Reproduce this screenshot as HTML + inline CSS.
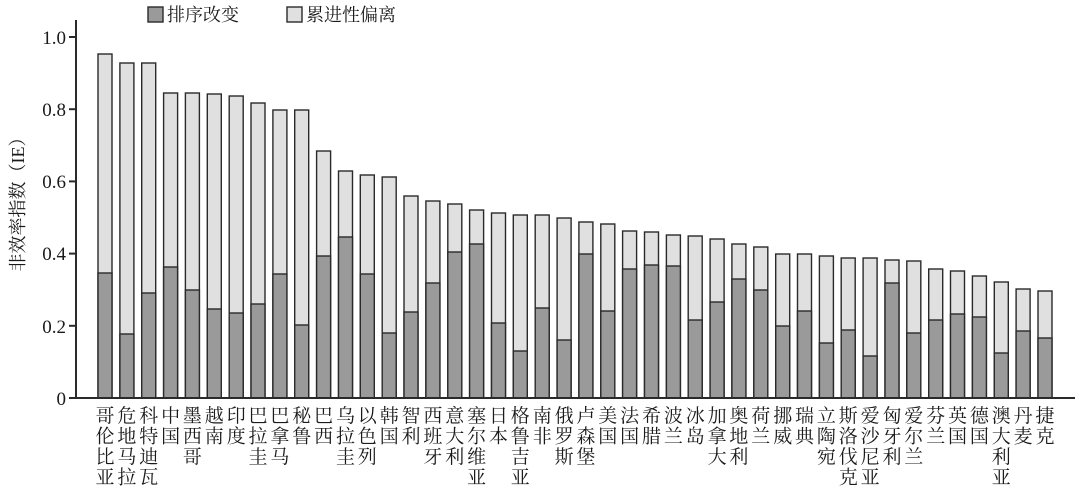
<!DOCTYPE html>
<html><head><meta charset="utf-8"><style>
html,body{margin:0;padding:0;background:#fff;}
svg{display:block;font-family:"Liberation Serif","Noto Serif CJK SC","Noto Sans CJK SC",serif;}
.l{fill:#e0e0e0;stroke:#2a2a2a;stroke-width:1.4}
.d{fill:#9a9a9a;stroke:#2a2a2a;stroke-width:1.4}
.c{font-size:19px;fill:#1a1a1a;text-anchor:middle}
</style></head><body>
<svg width="1080" height="496" viewBox="0 0 1080 496">
<rect x="148" y="7" width="15" height="15" class="d"/>
<text x="167" y="21" font-size="18" fill="#1a1a1a">排序改变</text>
<rect x="287" y="7" width="15" height="15" class="l"/>
<text x="306" y="21" font-size="18" fill="#1a1a1a">累进性偏离</text>
<text transform="translate(24,200) rotate(-90)" font-size="18" fill="#1a1a1a" text-anchor="middle">非效率指数（IE）</text>
<g font-size="19" fill="#1a1a1a" text-anchor="end">
<text x="66" y="44">1.0</text><text x="66" y="116">0.8</text><text x="66" y="188">0.6</text><text x="66" y="260">0.4</text><text x="66" y="333">0.2</text><text x="66" y="405">0</text>
</g>
<g stroke="#2a2a2a" stroke-width="2">
<line x1="76" y1="20" x2="76" y2="398"/>
<line x1="69" y1="37" x2="76" y2="37"/><line x1="69" y1="109.2" x2="76" y2="109.2"/><line x1="69" y1="181.4" x2="76" y2="181.4"/><line x1="69" y1="253.6" x2="76" y2="253.6"/><line x1="69" y1="325.8" x2="76" y2="325.8"/><line x1="69" y1="398" x2="76" y2="398"/>
</g>
<g>
<rect class="l" x="98" y="54" width="14" height="344"/><rect class="d" x="98" y="273" width="14" height="125"/>
<rect class="l" x="119.9" y="63" width="14" height="335"/><rect class="d" x="119.9" y="334" width="14" height="64"/>
<rect class="l" x="141.7" y="63" width="14" height="335"/><rect class="d" x="141.7" y="293" width="14" height="105"/>
<rect class="l" x="163.6" y="93" width="14" height="305"/><rect class="d" x="163.6" y="267" width="14" height="131"/>
<rect class="l" x="185.4" y="93" width="14" height="305"/><rect class="d" x="185.4" y="290" width="14" height="108"/>
<rect class="l" x="207.3" y="94" width="14" height="304"/><rect class="d" x="207.3" y="309" width="14" height="89"/>
<rect class="l" x="229.2" y="96" width="14" height="302"/><rect class="d" x="229.2" y="313" width="14" height="85"/>
<rect class="l" x="251" y="103" width="14" height="295"/><rect class="d" x="251" y="304" width="14" height="94"/>
<rect class="l" x="272.9" y="110" width="14" height="288"/><rect class="d" x="272.9" y="274" width="14" height="124"/>
<rect class="l" x="294.7" y="110" width="14" height="288"/><rect class="d" x="294.7" y="325" width="14" height="73"/>
<rect class="l" x="316.6" y="151" width="14" height="247"/><rect class="d" x="316.6" y="256" width="14" height="142"/>
<rect class="l" x="338.5" y="171" width="14" height="227"/><rect class="d" x="338.5" y="237" width="14" height="161"/>
<rect class="l" x="360.3" y="175" width="14" height="223"/><rect class="d" x="360.3" y="274" width="14" height="124"/>
<rect class="l" x="382.2" y="177" width="14" height="221"/><rect class="d" x="382.2" y="333" width="14" height="65"/>
<rect class="l" x="404" y="196" width="14" height="202"/><rect class="d" x="404" y="312" width="14" height="86"/>
<rect class="l" x="425.9" y="201" width="14" height="197"/><rect class="d" x="425.9" y="283" width="14" height="115"/>
<rect class="l" x="447.8" y="204" width="14" height="194"/><rect class="d" x="447.8" y="252" width="14" height="146"/>
<rect class="l" x="469.6" y="210" width="14" height="188"/><rect class="d" x="469.6" y="244" width="14" height="154"/>
<rect class="l" x="491.5" y="213" width="14" height="185"/><rect class="d" x="491.5" y="323" width="14" height="75"/>
<rect class="l" x="513.3" y="215" width="14" height="183"/><rect class="d" x="513.3" y="351" width="14" height="47"/>
<rect class="l" x="535.2" y="215" width="14" height="183"/><rect class="d" x="535.2" y="308" width="14" height="90"/>
<rect class="l" x="557.1" y="218" width="14" height="180"/><rect class="d" x="557.1" y="340" width="14" height="58"/>
<rect class="l" x="578.9" y="222" width="14" height="176"/><rect class="d" x="578.9" y="254" width="14" height="144"/>
<rect class="l" x="600.8" y="224" width="14" height="174"/><rect class="d" x="600.8" y="311" width="14" height="87"/>
<rect class="l" x="622.6" y="231" width="14" height="167"/><rect class="d" x="622.6" y="269" width="14" height="129"/>
<rect class="l" x="644.5" y="232" width="14" height="166"/><rect class="d" x="644.5" y="265" width="14" height="133"/>
<rect class="l" x="666.4" y="235" width="14" height="163"/><rect class="d" x="666.4" y="266" width="14" height="132"/>
<rect class="l" x="688.2" y="236" width="14" height="162"/><rect class="d" x="688.2" y="320" width="14" height="78"/>
<rect class="l" x="710.1" y="239" width="14" height="159"/><rect class="d" x="710.1" y="302" width="14" height="96"/>
<rect class="l" x="731.9" y="244" width="14" height="154"/><rect class="d" x="731.9" y="279" width="14" height="119"/>
<rect class="l" x="753.8" y="247" width="14" height="151"/><rect class="d" x="753.8" y="290" width="14" height="108"/>
<rect class="l" x="775.7" y="254" width="14" height="144"/><rect class="d" x="775.7" y="326" width="14" height="72"/>
<rect class="l" x="797.5" y="254" width="14" height="144"/><rect class="d" x="797.5" y="311" width="14" height="87"/>
<rect class="l" x="819.4" y="256" width="14" height="142"/><rect class="d" x="819.4" y="343" width="14" height="55"/>
<rect class="l" x="841.2" y="258" width="14" height="140"/><rect class="d" x="841.2" y="330" width="14" height="68"/>
<rect class="l" x="863.1" y="258" width="14" height="140"/><rect class="d" x="863.1" y="356" width="14" height="42"/>
<rect class="l" x="885" y="260" width="14" height="138"/><rect class="d" x="885" y="283" width="14" height="115"/>
<rect class="l" x="906.8" y="261" width="14" height="137"/><rect class="d" x="906.8" y="333" width="14" height="65"/>
<rect class="l" x="928.7" y="269" width="14" height="129"/><rect class="d" x="928.7" y="320" width="14" height="78"/>
<rect class="l" x="950.5" y="271" width="14" height="127"/><rect class="d" x="950.5" y="314" width="14" height="84"/>
<rect class="l" x="972.4" y="276" width="14" height="122"/><rect class="d" x="972.4" y="317" width="14" height="81"/>
<rect class="l" x="994.3" y="282" width="14" height="116"/><rect class="d" x="994.3" y="353" width="14" height="45"/>
<rect class="l" x="1016.1" y="289" width="14" height="109"/><rect class="d" x="1016.1" y="331" width="14" height="67"/>
<rect class="l" x="1038" y="291" width="14" height="107"/><rect class="d" x="1038" y="338" width="14" height="60"/>
</g>
<line x1="76" y1="398" x2="1075" y2="398" stroke="#2a2a2a" stroke-width="2"/>
<g class="c">
<text class="c"><tspan x="105" y="422">哥</tspan><tspan x="105" dy="20.5">伦</tspan><tspan x="105" dy="20.5">比</tspan><tspan x="105" dy="20.5">亚</tspan></text>
<text class="c"><tspan x="126.9" y="422">危</tspan><tspan x="126.9" dy="20.5">地</tspan><tspan x="126.9" dy="20.5">马</tspan><tspan x="126.9" dy="20.5">拉</tspan></text>
<text class="c"><tspan x="148.7" y="422">科</tspan><tspan x="148.7" dy="20.5">特</tspan><tspan x="148.7" dy="20.5">迪</tspan><tspan x="148.7" dy="20.5">瓦</tspan></text>
<text class="c"><tspan x="170.6" y="422">中</tspan><tspan x="170.6" dy="20.5">国</tspan></text>
<text class="c"><tspan x="192.4" y="422">墨</tspan><tspan x="192.4" dy="20.5">西</tspan><tspan x="192.4" dy="20.5">哥</tspan></text>
<text class="c"><tspan x="214.3" y="422">越</tspan><tspan x="214.3" dy="20.5">南</tspan></text>
<text class="c"><tspan x="236.2" y="422">印</tspan><tspan x="236.2" dy="20.5">度</tspan></text>
<text class="c"><tspan x="258" y="422">巴</tspan><tspan x="258" dy="20.5">拉</tspan><tspan x="258" dy="20.5">圭</tspan></text>
<text class="c"><tspan x="279.9" y="422">巴</tspan><tspan x="279.9" dy="20.5">拿</tspan><tspan x="279.9" dy="20.5">马</tspan></text>
<text class="c"><tspan x="301.7" y="422">秘</tspan><tspan x="301.7" dy="20.5">鲁</tspan></text>
<text class="c"><tspan x="323.6" y="422">巴</tspan><tspan x="323.6" dy="20.5">西</tspan></text>
<text class="c"><tspan x="345.5" y="422">乌</tspan><tspan x="345.5" dy="20.5">拉</tspan><tspan x="345.5" dy="20.5">圭</tspan></text>
<text class="c"><tspan x="367.3" y="422">以</tspan><tspan x="367.3" dy="20.5">色</tspan><tspan x="367.3" dy="20.5">列</tspan></text>
<text class="c"><tspan x="389.2" y="422">韩</tspan><tspan x="389.2" dy="20.5">国</tspan></text>
<text class="c"><tspan x="411" y="422">智</tspan><tspan x="411" dy="20.5">利</tspan></text>
<text class="c"><tspan x="432.9" y="422">西</tspan><tspan x="432.9" dy="20.5">班</tspan><tspan x="432.9" dy="20.5">牙</tspan></text>
<text class="c"><tspan x="454.8" y="422">意</tspan><tspan x="454.8" dy="20.5">大</tspan><tspan x="454.8" dy="20.5">利</tspan></text>
<text class="c"><tspan x="476.6" y="422">塞</tspan><tspan x="476.6" dy="20.5">尔</tspan><tspan x="476.6" dy="20.5">维</tspan><tspan x="476.6" dy="20.5">亚</tspan></text>
<text class="c"><tspan x="498.5" y="422">日</tspan><tspan x="498.5" dy="20.5">本</tspan></text>
<text class="c"><tspan x="520.3" y="422">格</tspan><tspan x="520.3" dy="20.5">鲁</tspan><tspan x="520.3" dy="20.5">吉</tspan><tspan x="520.3" dy="20.5">亚</tspan></text>
<text class="c"><tspan x="542.2" y="422">南</tspan><tspan x="542.2" dy="20.5">非</tspan></text>
<text class="c"><tspan x="564.1" y="422">俄</tspan><tspan x="564.1" dy="20.5">罗</tspan><tspan x="564.1" dy="20.5">斯</tspan></text>
<text class="c"><tspan x="585.9" y="422">卢</tspan><tspan x="585.9" dy="20.5">森</tspan><tspan x="585.9" dy="20.5">堡</tspan></text>
<text class="c"><tspan x="607.8" y="422">美</tspan><tspan x="607.8" dy="20.5">国</tspan></text>
<text class="c"><tspan x="629.6" y="422">法</tspan><tspan x="629.6" dy="20.5">国</tspan></text>
<text class="c"><tspan x="651.5" y="422">希</tspan><tspan x="651.5" dy="20.5">腊</tspan></text>
<text class="c"><tspan x="673.4" y="422">波</tspan><tspan x="673.4" dy="20.5">兰</tspan></text>
<text class="c"><tspan x="695.2" y="422">冰</tspan><tspan x="695.2" dy="20.5">岛</tspan></text>
<text class="c"><tspan x="717.1" y="422">加</tspan><tspan x="717.1" dy="20.5">拿</tspan><tspan x="717.1" dy="20.5">大</tspan></text>
<text class="c"><tspan x="738.9" y="422">奥</tspan><tspan x="738.9" dy="20.5">地</tspan><tspan x="738.9" dy="20.5">利</tspan></text>
<text class="c"><tspan x="760.8" y="422">荷</tspan><tspan x="760.8" dy="20.5">兰</tspan></text>
<text class="c"><tspan x="782.7" y="422">挪</tspan><tspan x="782.7" dy="20.5">威</tspan></text>
<text class="c"><tspan x="804.5" y="422">瑞</tspan><tspan x="804.5" dy="20.5">典</tspan></text>
<text class="c"><tspan x="826.4" y="422">立</tspan><tspan x="826.4" dy="20.5">陶</tspan><tspan x="826.4" dy="20.5">宛</tspan></text>
<text class="c"><tspan x="848.2" y="422">斯</tspan><tspan x="848.2" dy="20.5">洛</tspan><tspan x="848.2" dy="20.5">伐</tspan><tspan x="848.2" dy="20.5">克</tspan></text>
<text class="c"><tspan x="870.1" y="422">爱</tspan><tspan x="870.1" dy="20.5">沙</tspan><tspan x="870.1" dy="20.5">尼</tspan><tspan x="870.1" dy="20.5">亚</tspan></text>
<text class="c"><tspan x="892" y="422">匈</tspan><tspan x="892" dy="20.5">牙</tspan><tspan x="892" dy="20.5">利</tspan></text>
<text class="c"><tspan x="913.8" y="422">爱</tspan><tspan x="913.8" dy="20.5">尔</tspan><tspan x="913.8" dy="20.5">兰</tspan></text>
<text class="c"><tspan x="935.7" y="422">芬</tspan><tspan x="935.7" dy="20.5">兰</tspan></text>
<text class="c"><tspan x="957.5" y="422">英</tspan><tspan x="957.5" dy="20.5">国</tspan></text>
<text class="c"><tspan x="979.4" y="422">德</tspan><tspan x="979.4" dy="20.5">国</tspan></text>
<text class="c"><tspan x="1001.3" y="422">澳</tspan><tspan x="1001.3" dy="20.5">大</tspan><tspan x="1001.3" dy="20.5">利</tspan><tspan x="1001.3" dy="20.5">亚</tspan></text>
<text class="c"><tspan x="1023.1" y="422">丹</tspan><tspan x="1023.1" dy="20.5">麦</tspan></text>
<text class="c"><tspan x="1045" y="422">捷</tspan><tspan x="1045" dy="20.5">克</tspan></text>
</g>
</svg>
</body></html>
